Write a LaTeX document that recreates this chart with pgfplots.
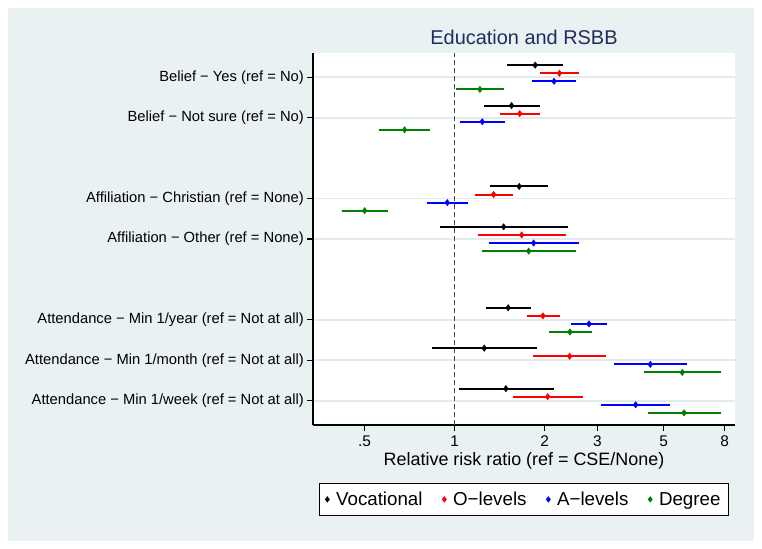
\documentclass[border=0pt]{standalone}
\usepackage{fontspec}
\setmainfont{Liberation Sans}
\usepackage{pgfplots}
\pgfplotsset{compat=1.18}
\definecolor{bgc}{RGB}{233,241,243}
\definecolor{gridc}{RGB}{226,236,239}
\definecolor{titc}{RGB}{30,45,90}
\definecolor{sred}{RGB}{255,0,0}
\definecolor{sblue}{RGB}{0,0,255}
\definecolor{sgreen}{RGB}{0,128,0}
\definecolor{refc}{RGB}{70,70,70}
\begin{document}
\begin{tikzpicture}
\fill[white] (0bp,0bp) rectangle (762bp,549bp);
\fill[bgc] (8bp,8bp) rectangle (754bp,541bp);
\begin{axis}[
  at={(313bp,124bp)}, anchor=south west,
  width=422bp, height=372bp, scale only axis,
  xmode=log, xmin=0.336, xmax=8.66,
  ymin=0.4, ymax=9.6,
  axis x line*=bottom, axis y line*=left,
  axis line style={black, line width=1.1bp},
  axis background/.style={fill=white},
  xtick={0.5,1,2,3,5,8}, xticklabels={.5,1,2,3,5,8},
  xminorticks=false, yminorticks=false,
  ytick={1,2,3,5,6,8,9},
  yticklabels={
    {Attendance − Min 1/week (ref = Not at all)},
    {Attendance − Min 1/month (ref = Not at all)},
    {Attendance − Min 1/year (ref = Not at all)},
    {Affiliation − Other (ref = None)},
    {Affiliation − Christian (ref = None)},
    {Belief − Not sure (ref = No)},
    {Belief − Yes (ref = No)}},
  tick align=outside, major tick length=6bp,
  tick style={black, line width=1.1bp},
  ymajorgrids, major grid style={gridc, line width=1.8bp},
  yticklabel style={font=\fontsize{14.8}{17}\selectfont, anchor=east, inner sep=0pt, xshift=-3bp},
  xticklabel style={font=\fontsize{15.5}{18}\selectfont, anchor=north, inner sep=0pt, yshift=-5bp},
  title={Education and RSBB},
  title style={font=\fontsize{20}{24}\selectfont, color=titc, at={(axis description cs:0.5,1.027)}, anchor=center},
  xlabel={Relative risk ratio (ref = CSE/None)},
  xlabel style={font=\fontsize{18}{21}\selectfont, at={(axis description cs:0.5,-0.097)}, anchor=center},
  legend columns=4,
  legend style={at={(axis description cs:0.5,-0.2)}, anchor=center, draw=black, line width=1bp, fill=white,
    font=\fontsize{18.8}{22}\selectfont, inner xsep=6bp, inner ysep=6.5bp,
    /tikz/every odd column/.append style={column sep=5bp},
    /tikz/every even column/.append style={column sep=18bp}},
  legend image code/.code={\draw[#1] plot coordinates {(0bp,0bp)};},
  legend image post style={mark size=2.4bp},
  unbounded coords=jump,
]
% reference line at 1
\addplot[refc, dash pattern=on 5bp off 3bp, line width=1.5bp, forget plot] coordinates {(1,0.4) (1,9.6)};
% Vocational
\addplot[black, line width=2bp, forget plot] coordinates {
 (1.50,9.3) (2.30,9.3) (nan,nan)
 (1.25,8.3) (1.93,8.3) (nan,nan)
 (1.315,6.3) (2.056,6.3) (nan,nan)
 (0.891,5.3) (2.393,5.3) (nan,nan)
 (1.273,3.3) (1.796,3.3) (nan,nan)
 (0.84,2.3) (1.889,2.3) (nan,nan)
 (1.034,1.3) (2.143,1.3)};
\addplot[black, only marks, mark=diamond*, mark size=3.2bp] coordinates {
 (1.86,9.3) (1.55,8.3) (1.644,6.3) (1.458,5.3) (1.51,3.3) (1.256,2.3) (1.484,1.3)};
\addlegendentry{Vocational}
% O-levels
\addplot[sred, line width=2bp, forget plot] coordinates {
 (1.93,9.1) (2.60,9.1) (nan,nan)
 (1.42,8.1) (1.93,8.1) (nan,nan)
 (1.166,6.1) (1.567,6.1) (nan,nan)
 (1.20,5.1) (2.35,5.1) (nan,nan)
 (1.741,3.1) (2.245,3.1) (nan,nan)
 (1.832,2.1) (3.207,2.1) (nan,nan)
 (1.567,1.1) (2.68,1.1)};
\addplot[sred, only marks, mark=diamond*, mark size=3.2bp] coordinates {
 (2.24,9.1) (1.65,8.1) (1.35,6.1) (1.675,5.1) (1.974,3.1) (2.424,2.1) (2.047,1.1)};
\addlegendentry{O−levels}
% A-levels
\addplot[sblue, line width=2bp, forget plot] coordinates {
 (1.81,8.9) (2.55,8.9) (nan,nan)
 (1.039,7.9) (1.473,7.9) (nan,nan)
 (0.808,5.9) (1.11,5.9) (nan,nan)
 (1.302,4.9) (2.598,4.9) (nan,nan)
 (2.449,2.9) (3.224,2.9) (nan,nan)
 (3.41,1.9) (5.98,1.9) (nan,nan)
 (3.078,0.9) (5.26,0.9)};
\addplot[sblue, only marks, mark=diamond*, mark size=3.2bp] coordinates {
 (2.15,8.9) (1.237,7.9) (0.945,5.9) (1.837,4.9) (2.814,2.9) (4.51,1.9) (4.03,0.9)};
\addlegendentry{A−levels}
% Degree
\addplot[sgreen, line width=2bp, forget plot] coordinates {
 (1.008,8.7) (1.465,8.7) (nan,nan)
 (0.557,7.7) (0.829,7.7) (nan,nan)
 (0.421,5.7) (0.597,5.7) (nan,nan)
 (1.231,4.7) (2.54,4.7) (nan,nan)
 (2.063,2.7) (2.872,2.7) (nan,nan)
 (4.29,1.7) (7.77,1.7) (nan,nan)
 (4.42,0.7) (7.76,0.7)};
\addplot[sgreen, only marks, mark=diamond*, mark size=3.2bp] coordinates {
 (1.215,8.7) (0.68,7.7) (0.50,5.7) (1.768,4.7) (2.43,2.7) (5.77,1.7) (5.85,0.7)};
\addlegendentry{Degree}
\end{axis}
\end{tikzpicture}
\end{document}
